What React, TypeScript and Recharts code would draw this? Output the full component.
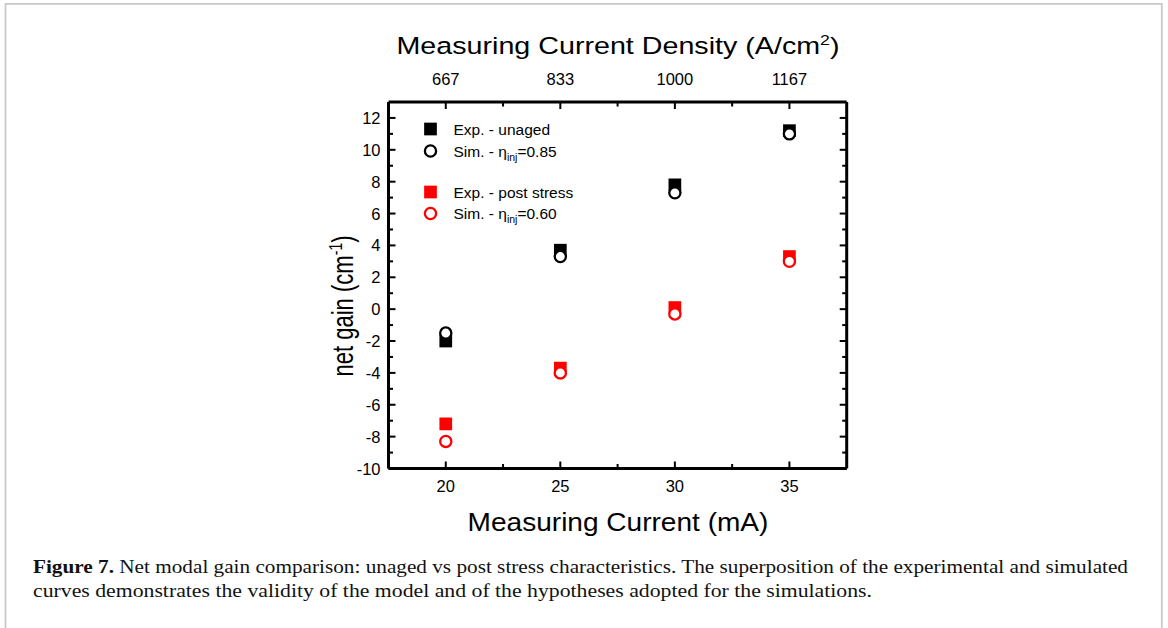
import React from 'react';
import { ScatterChart, Scatter, XAxis, YAxis } from 'recharts';

// ---- data ----
const currents = [20, 25, 30, 35];
const expUnaged = [-2.0, 3.7, 7.8, 11.2];
const simUnaged = [-1.5, 3.3, 7.3, 11.0];
const expStress = [-7.2, -3.7, 0.1, 3.3];
const simStress = [-8.3, -4.0, -0.3, 3.0];
const densityLabels = ['667', '833', '1000', '1167'];
const xMajorTicks = [20, 25, 30, 35];
const xMinorTicks = [22.5, 27.5, 32.5];
const yTickValues = [-10, -9, -8, -7, -6, -5, -4, -3, -2, -1, 0, 1, 2, 3, 4, 5, 6, 7, 8, 9, 10, 11, 12];

const toPoints = (ys: number[]) => currents.map((x, i) => ({ x, y: ys[i] }));

const BLACK = '#000000';
const RED = '#ff0000';
const SANS = '"Liberation Sans", Arial, Helvetica, sans-serif';
const SERIF = '"Liberation Serif", "Times New Roman", serif';
const TICK_FONT = 16.5;

const xTicks = [...xMajorTicks, ...xMinorTicks].sort((a, b) => a - b);

const makeSquare = (color: string) => (props: any) => {
  const { cx, cy } = props;
  const s = 12.7;
  return <rect x={cx - s / 2} y={cy - s / 2} width={s} height={s} fill={color} />;
};
const makeCircle = (color: string) => (props: any) => {
  const { cx, cy } = props;
  return <circle cx={cx} cy={cy} r={5.6} fill="#ffffff" stroke={color} strokeWidth={2.3} />;
};

const LeftTick = (props: any) => {
  const { x, y, payload } = props;
  const v = payload.value as number;
  const major = v % 2 === 0;
  return (
    <g>
      <line x1={x} x2={x + (major ? 7 : 4.5)} y1={y} y2={y} stroke={BLACK} strokeWidth={2} />
      {major && (
        <text x={x - 8} y={y + 6} textAnchor="end" fontSize={TICK_FONT} fontFamily={SANS} fill={BLACK}>
          {v}
        </text>
      )}
    </g>
  );
};

const RightTick = (props: any) => {
  const { x, y, payload } = props;
  const v = payload.value as number;
  const major = v % 2 === 0;
  return <line x1={x} x2={x - (major ? 7 : 4.5)} y1={y} y2={y} stroke={BLACK} strokeWidth={2} />;
};

const BottomTick = (props: any) => {
  const { x, y, payload } = props;
  const v = payload.value as number;
  const major = xMajorTicks.includes(v);
  return (
    <g>
      <line x1={x} x2={x} y1={y} y2={y - (major ? 7 : 4.5)} stroke={BLACK} strokeWidth={2} />
      {major && (
        <text x={x} y={y + 23} textAnchor="middle" fontSize={TICK_FONT} fontFamily={SANS} fill={BLACK}>
          {v}
        </text>
      )}
    </g>
  );
};

const TopTick = (props: any) => {
  const { x, y, payload } = props;
  const v = payload.value as number;
  const idx = xMajorTicks.indexOf(v);
  const major = idx >= 0;
  return (
    <g>
      <line x1={x} x2={x} y1={y} y2={y + (major ? 7 : 4.5)} stroke={BLACK} strokeWidth={2} />
      {major && (
        <text x={x} y={y - 17.5} textAnchor="middle" fontSize={TICK_FONT} fontFamily={SANS} fill={BLACK}>
          {densityLabels[idx]}
        </text>
      )}
    </g>
  );
};

const legendRows = [
  { label: 'Exp. - unaged', color: BLACK, kind: 'square', eta: '' },
  { label: 'Sim. - η', color: BLACK, kind: 'circle', eta: '=0.85' },
  { label: 'Exp. - post stress', color: RED, kind: 'square', eta: '' },
  { label: 'Sim. - η', color: RED, kind: 'circle', eta: '=0.60' },
];
const legendRowY = [129, 151, 192, 213.5];
const LEGEND_X = 430.5;

const PLOT_LEFT = 388.5;
const PLOT_RIGHT = 846.7;
const PLOT_TOP = 102;
const PLOT_BOTTOM = 468.5;
const W = 1168;
const H = 628;
const AX = 1; // axis box thickness

export default function App() {
  return (
    <div style={{ position: 'absolute', left: 0, top: 0, width: W, height: H, background: '#fff', overflow: 'hidden' }}>
      <div style={{ position: 'absolute', left: 0, top: 0 }}>
        <ScatterChart
          width={W}
          height={H}
          margin={{ top: PLOT_TOP - AX, left: PLOT_LEFT - AX, right: W - PLOT_RIGHT - AX, bottom: H - PLOT_BOTTOM - AX }}
        >
          <XAxis
            xAxisId={0}
            dataKey="x"
            type="number"
            orientation="bottom"
            domain={[17.5, 37.5]}
            allowDataOverflow
            ticks={xTicks}
            interval={0}
            height={AX}
            tickSize={0}
            tickMargin={0}
            tickLine={false}
            tick={<BottomTick />}
            axisLine={{ stroke: BLACK, strokeWidth: 3 }}
          />
          <XAxis
            xAxisId="top"
            dataKey="x"
            type="number"
            orientation="top"
            domain={[17.5, 37.5]}
            allowDataOverflow
            ticks={xTicks}
            interval={0}
            height={AX}
            tickSize={0}
            tickMargin={0}
            tickLine={false}
            tick={<TopTick />}
            axisLine={{ stroke: BLACK, strokeWidth: 3 }}
          />
          <YAxis
            yAxisId={0}
            dataKey="y"
            type="number"
            orientation="left"
            domain={[-10, 13]}
            allowDataOverflow
            ticks={yTickValues}
            interval={0}
            width={AX}
            tickSize={0}
            tickMargin={0}
            tickLine={false}
            tick={<LeftTick />}
            axisLine={{ stroke: BLACK, strokeWidth: 3 }}
          />
          <YAxis
            yAxisId="right"
            dataKey="y"
            type="number"
            orientation="right"
            domain={[-10, 13]}
            allowDataOverflow
            ticks={yTickValues}
            interval={0}
            width={AX}
            tickSize={0}
            tickMargin={0}
            tickLine={false}
            tick={<RightTick />}
            axisLine={{ stroke: BLACK, strokeWidth: 3 }}
          />
          <Scatter name="Exp. - unaged" data={toPoints(expUnaged)} shape={makeSquare(BLACK)} isAnimationActive={false} />
          <Scatter name="Sim. - unaged" data={toPoints(simUnaged)} shape={makeCircle(BLACK)} isAnimationActive={false} />
          <Scatter name="Exp. - post stress" data={toPoints(expStress)} shape={makeSquare(RED)} isAnimationActive={false} />
          <Scatter name="Sim. - post stress" data={toPoints(simStress)} shape={makeCircle(RED)} isAnimationActive={false} />
        </ScatterChart>
      </div>
      <svg width={W} height={H} style={{ position: 'absolute', left: 0, top: 0, pointerEvents: 'none' }}>
        {/* outer frame */}
        <path d={`M5.5 ${H + 5} V3.8 H1161.8 V${H + 5}`} fill="none" stroke="#c8c8c8" strokeWidth={1.8} />
        {/* legend */}
        {legendRows.map((r, i) => {
          const cy = legendRowY[i];
          return (
            <g key={i}>
              {r.kind === 'square' ? (
                <rect x={LEGEND_X - 6.35} y={cy - 6.35} width={12.7} height={12.7} fill={r.color} />
              ) : (
                <circle cx={LEGEND_X} cy={cy} r={5.6} fill="#fff" stroke={r.color} strokeWidth={2.3} />
              )}
              <text x={453.5} y={cy + 5.5} fontSize={15.5} fontFamily={SANS} fill={BLACK}>
                {r.label}
                {r.eta && (
                  <>
                    <tspan dy={4} fontSize={10.5}>inj</tspan>
                    <tspan dy={-4}>{r.eta}</tspan>
                  </>
                )}
              </text>
            </g>
          );
        })}
        {/* top title */}
        <text
          transform={`translate(618, 54) scale(1.22, 1)`}
          textAnchor="middle"
          fontSize={23.5}
          fontFamily={SANS}
          fill={BLACK}
        >
          Measuring Current Density (A/cm<tspan dy={-9} fontSize={14.5}>2</tspan><tspan dy={9}>)</tspan>
        </text>
        {/* bottom title */}
        <text
          transform={`translate(618, 531) scale(1.1, 1)`}
          textAnchor="middle"
          fontSize={25.5}
          fontFamily={SANS}
          fill={BLACK}
        >
          Measuring Current (mA)
        </text>
        {/* y title */}
        <text
          transform={`translate(353, 306) rotate(-90) scale(0.76, 1)`}
          textAnchor="middle"
          fontSize={29}
          fontFamily={SANS}
          fill={BLACK}
        >
          net gain (cm<tspan dy={-11} fontSize={18.5}>-1</tspan><tspan dy={11}>)</tspan>
        </text>
        {/* caption */}
        <text x={33} y={573} fontSize={19} fontFamily={SERIF} fill="#111" textLength={1095} lengthAdjust="spacingAndGlyphs">
          <tspan fontWeight="bold">Figure 7.</tspan> Net modal gain comparison: unaged vs post stress characteristics. The superposition of the experimental and simulated
        </text>
        <text x={33} y={597} fontSize={19} fontFamily={SERIF} fill="#111" textLength={839} lengthAdjust="spacingAndGlyphs">
          curves demonstrates the validity of the model and of the hypotheses adopted for the simulations.
        </text>
      </svg>
    </div>
  );
}
